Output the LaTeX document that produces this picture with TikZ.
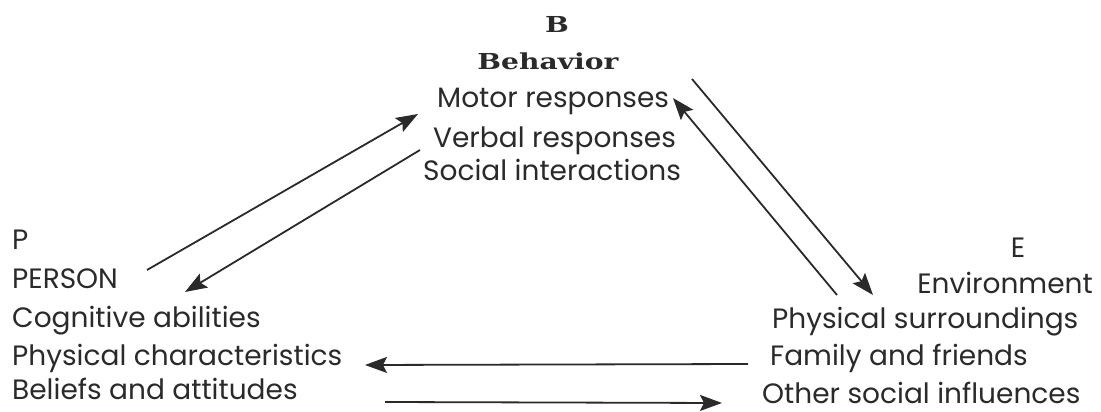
\documentclass[tikz,border=0pt]{standalone}
\usepackage{graphicx}
\usepackage{fontspec}
\setmainfont{Poppins}
\newfontfamily\serifb{DejaVu Serif}
\usetikzlibrary{arrows.meta}
\definecolor{ink}{HTML}{2A2A2A}
\tikzset{
  lbl/.style={inner sep=0pt, text=ink, font=\fontsize{28}{32}\selectfont, anchor=base west},
  hdr/.style={inner sep=0pt, text=ink, font=\serifb\bfseries\fontsize{22}{26}\selectfont, anchor=base},
  conn/.style={draw=ink, line width=1.8pt, -{Stealth[length=22pt,width=16pt,inset=4pt]}}
}
\newcommand{\widen}[1]{\scalebox{1.28}[1]{#1}}
\begin{document}
\begin{tikzpicture}[x=1pt,y=-1pt]
\useasboundingbox (0,0) rectangle (1101,412);
% Behavior
\node[hdr] (b) at (557,33) {\widen{B}};
\node[hdr] (bh) at (548,70) {\widen{Behavior}};
\node[lbl] (b1) at (437,107) {Motor responses};
\node[lbl] (b2) at (433,147) {Verbal responses};
\node[lbl] (b3) at (423,180) {Social interactions};
% Person
\node[lbl] (p) at (12,249) {P};
\node[lbl] (p0) at (12,288) {PERSON};
\node[lbl] (p1) at (12,327) {Cognitive abilities};
\node[lbl] (p2) at (12,365) {Physical characteristics};
\node[lbl] (p3) at (12,399) {Beliefs and attitudes};
% Environment
\node[lbl,anchor=base] (e) at (1018,257) {E};
\node[lbl,anchor=base east] (e0) at (1093,293) {Environment};
\node[lbl] (e1) at (772,328) {Physical surroundings};
\node[lbl] (e2) at (770,365) {Family and friends};
\node[lbl] (e3) at (762,403) {Other social influences};
% connector end points
\coordinate (a1s) at (147,270); \coordinate (a1e) at (418,114);
\coordinate (a2s) at (420,150); \coordinate (a2e) at (185,292);
\coordinate (a3s) at (692,79);  \coordinate (a3e) at (873,295);
\coordinate (a4s) at (837,295); \coordinate (a4e) at (673,98);
\coordinate (a5s) at (748,364); \coordinate (a5e) at (365,365);
\coordinate (a6s) at (385,402); \coordinate (a6e) at (722,403);
\draw[conn] (a1s) -- (a1e);
\draw[conn] (a2s) -- (a2e);
\draw[conn] (a3s) -- (a3e);
\draw[conn] (a4s) -- (a4e);
\draw[conn] (a5s) -- (a5e);
\draw[conn] (a6s) -- (a6e);
\end{tikzpicture}
\end{document}
